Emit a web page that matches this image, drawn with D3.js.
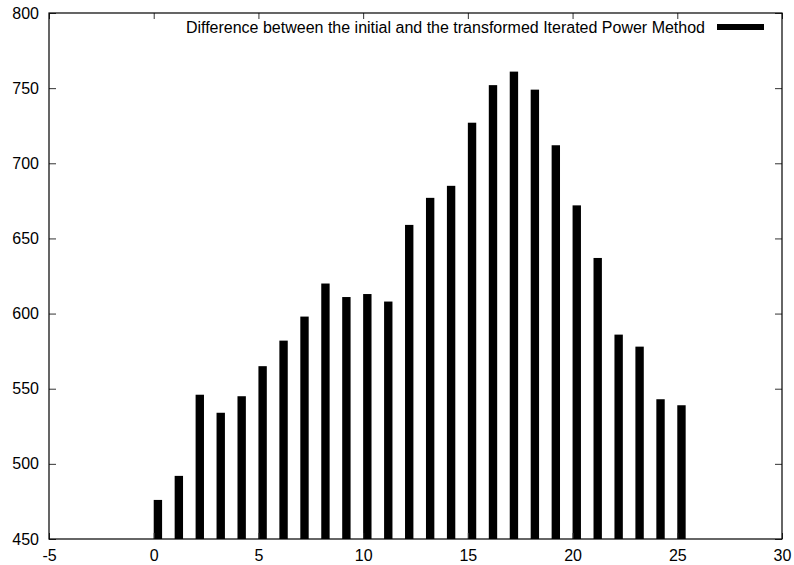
<!DOCTYPE html>
<html><head><meta charset="utf-8">
<script src="https://cdn.jsdelivr.net/npm/d3@7"></script>
<style>body{margin:0;background:#fff}svg{display:block}text{font-family:"Liberation Sans",Arial,Helvetica,sans-serif;fill:#000}</style>
</head><body>
<script>
const xValues = [0,1,2,3,4,5,6,7,8,9,10,11,12,13,14,15,16,17,18,19,20,21,22,23,24,25];
const yValues = [476,492,546,534,545,565,582,598,620,611,613,608,659,677,685,727,752,761,749,712,672,637,586,578,543,539];
const xTicks = [-5,0,5,10,15,20,25,30];
const yTicks = [450,500,550,600,650,700,750,800];
const seriesName = "Difference between the initial and the transformed Iterated Power Method";
const boxWidth = 0.4;

const W = 794, H = 565;
const L = 49, R = 782, T = 13, B = 539;
const svg = d3.select("body").append("svg").attr("width", W).attr("height", H);
const x = d3.scaleLinear().domain([-5, 30]).range([L, R]);
const y = d3.scaleLinear().domain([450, 800]).range([B, T]);

// bars
svg.append("g").selectAll("rect").data(xValues).join("rect")
  .attr("x", d => x(d))
  .attr("width", d => x(d + boxWidth) - x(d))
  .attr("y", (d, i) => y(yValues[i]))
  .attr("height", (d, i) => y(450) - y(yValues[i]))
  .attr("fill", "#000");

// axes with inward ticks
const fs = 16;
const fmt = d => String(d);
const gB = svg.append("g").attr("transform", `translate(0,${B})`)
  .call(d3.axisBottom(x).tickValues(xTicks).tickSizeInner(-6).tickSizeOuter(0).tickPadding(11).tickFormat(fmt));
const gT = svg.append("g").attr("transform", `translate(0,${T})`)
  .call(d3.axisTop(x).tickValues(xTicks).tickSizeInner(-6).tickSizeOuter(0).tickFormat(""));
const gL = svg.append("g").attr("transform", `translate(${L},0)`)
  .call(d3.axisLeft(y).tickValues(yTicks).tickSizeInner(-7).tickSizeOuter(0).tickPadding(10).tickFormat(fmt));
const gR = svg.append("g").attr("transform", `translate(${R},0)`)
  .call(d3.axisRight(y).tickValues(yTicks).tickSizeInner(-7).tickSizeOuter(0).tickFormat(""));
[gB, gT, gL, gR].forEach(g => {
  g.select(".domain").remove();
  g.selectAll("line").attr("stroke", "#333").attr("stroke-width", 1);
  g.selectAll("text").style("font-size", fs + "px").style("font-family", '"Liberation Sans",Arial,sans-serif').attr("fill", "#000");
});

// frame
svg.append("rect").attr("x", L).attr("y", T).attr("width", R - L).attr("height", B - T)
  .attr("fill", "none").attr("stroke", "#000").attr("stroke-width", 1.2);

// legend
svg.append("text").attr("x", 705).attr("y", 33).attr("text-anchor", "end")
  .style("font-size", "16px").text(seriesName);
svg.append("rect").attr("x", 717).attr("y", 24).attr("width", 47).attr("height", 6).attr("fill", "#000");
</script>
</body></html>
